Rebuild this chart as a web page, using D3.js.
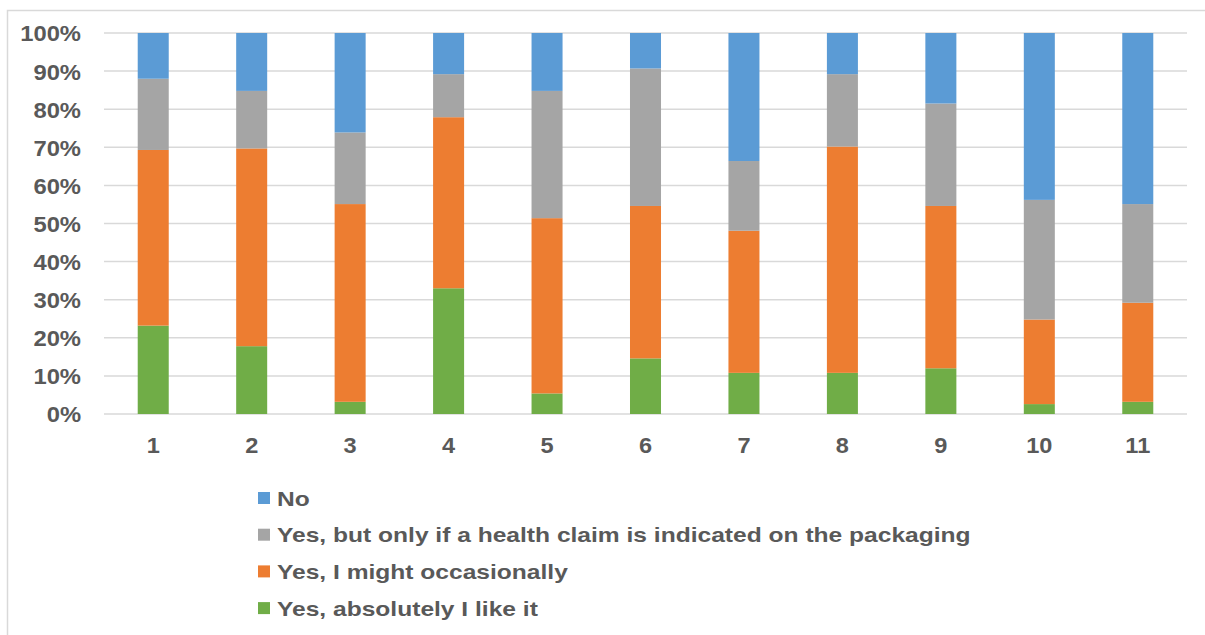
<!DOCTYPE html>
<html>
<head>
<meta charset="utf-8">
<script src="https://cdn.jsdelivr.net/npm/d3@7"></script>
<style>
  html, body { margin: 0; padding: 0; background: #fff; }
  svg { display: block; }
  text { font-family: "Liberation Sans", Arial, sans-serif; font-weight: bold; fill: #595959; }
</style>
</head>
<body>
<svg id="chart" width="1205" height="635"></svg>
<script>
// Product numbers along the x axis
const categories = ["1", "2", "3", "4", "5", "6", "7", "8", "9", "10", "11"];

// Share of answers (%) per product, one array per answer
const absolutely   = [23.2, 17.8, 3.2, 33.0, 5.4, 14.6, 10.8, 10.8, 12.0, 2.6, 3.2];
const occasionally = [46.1, 51.9, 51.9, 44.9, 46.0, 40.0, 37.3, 59.4, 42.6, 22.2, 26.0];
const healthClaim  = [18.7, 15.1, 18.8, 11.3, 33.4, 36.1, 18.3, 19.0, 26.9, 31.4, 25.9];
const no           = [12.0, 15.2, 26.1, 10.8, 15.2, 9.3, 33.6, 10.8, 18.5, 43.8, 44.9];

// Stack order bottom to top
const seriesNames = [
  "Yes, absolutely I like it",
  "Yes, I might occasionally",
  "Yes, but only if a health claim is indicated on the packaging",
  "No"
];
const seriesValues = [absolutely, occasionally, healthClaim, no];
const seriesColors = ["#70ad47", "#ed7d31", "#a5a5a5", "#5b9bd5"];

const yTicks = [0, 10, 20, 30, 40, 50, 60, 70, 80, 90, 100];

const svg = d3.select("#chart");

// Widen the glyphs of a text selection by a horizontal factor
function widen(sel, factor) {
  sel.each(function () {
    const len = this.getComputedTextLength();
    d3.select(this)
      .attr("textLength", len * factor)
      .attr("lengthAdjust", "spacingAndGlyphs");
  });
}

// Outer chart frame
svg.append("rect")
  .attr("x", 7.5).attr("y", 10.5)
  .attr("width", 1205).attr("height", 640)
  .attr("fill", "none")
  .attr("stroke", "#d9d9d9")
  .attr("stroke-width", 1.5);

const plot = { left: 104, right: 1187, top: 33, bottom: 414 };

const x = d3.scaleBand()
  .domain(categories)
  .range([plot.left, plot.right])
  .paddingInner(0.685)
  .paddingOuter(0.3425);

const y = d3.scaleLinear()
  .domain([0, 100])
  .range([plot.bottom, plot.top]);

// Horizontal gridlines
svg.append("g")
  .selectAll("line")
  .data(yTicks)
  .join("line")
  .attr("x1", plot.left).attr("x2", plot.right)
  .attr("y1", d => y(d)).attr("y2", d => y(d))
  .attr("stroke", "#d9d9d9")
  .attr("stroke-width", 1.5);

// Y axis labels
const yAxis = d3.axisLeft(y)
  .tickValues(yTicks)
  .tickFormat(d => d + "%")
  .tickSize(0)
  .tickPadding(0);
const gy = svg.append("g")
  .attr("transform", `translate(81,0)`)
  .call(yAxis);
gy.select(".domain").remove();
gy.selectAll("text")
  .attr("font-size", 22)
  .attr("font-family", null)
  .attr("fill", "#595959")
  .attr("dy", "0.36em")
  .call(widen, 1.08);

// Stacked data
const rows = categories.map((c, i) => {
  const r = { cat: c };
  seriesNames.forEach((s, k) => { r[s] = seriesValues[k][i]; });
  return r;
});
const stacked = d3.stack().keys(seriesNames)(rows);

svg.append("g")
  .selectAll("g")
  .data(stacked)
  .join("g")
  .attr("fill", (d, i) => seriesColors[i])
  .selectAll("rect")
  .data(d => d)
  .join("rect")
  .attr("x", d => x(d.data.cat))
  .attr("width", x.bandwidth())
  .attr("y", d => y(d[1]))
  .attr("height", d => y(d[0]) - y(d[1]));

// X axis labels
const xAxis = d3.axisBottom(x).tickSize(0).tickPadding(0);
const gx = svg.append("g")
  .attr("transform", `translate(0,${plot.bottom})`)
  .call(xAxis);
gx.select(".domain").remove();
gx.selectAll("text")
  .attr("font-size", 22)
  .attr("font-family", null)
  .attr("fill", "#595959")
  .attr("dy", null)
  .attr("y", 39)
  .call(widen, 1.07);

// Legend, top to bottom: No first
const legendOrder = [3, 2, 1, 0];
const legend = svg.append("g")
  .selectAll("g")
  .data(legendOrder)
  .join("g")
  .attr("transform", (d, i) => `translate(258,${498 + i * 36.7})`);
legend.append("rect")
  .attr("x", 0).attr("y", -6)
  .attr("width", 12).attr("height", 12)
  .attr("fill", d => seriesColors[d]);
legend.append("text")
  .attr("x", 19)
  .attr("dy", "0.36em")
  .attr("font-size", 21)
  .text(d => seriesNames[d])
  .call(widen, 1.17);
</script>
</body>
</html>
